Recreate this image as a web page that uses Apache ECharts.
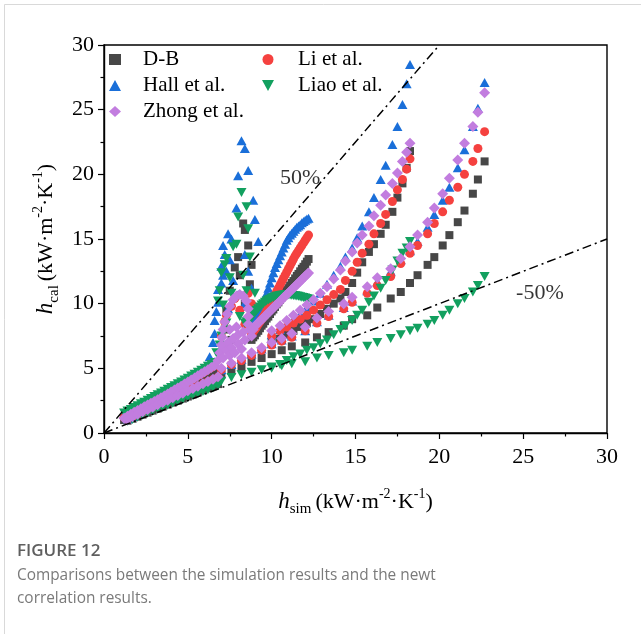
<!DOCTYPE html>
<html>
<head>
<meta charset="utf-8">
<script src="https://cdn.jsdelivr.net/npm/echarts@6/dist/echarts.min.js"></script>
<style>
html,body{margin:0;padding:0;background:#fff;}
#chart{width:641px;height:634px;}
</style>
</head>
<body>
<div id="chart"></div>
<script>
// ---------------- DATA ----------------
// low band, upper line (run A)
const xLowA = [1.2,1.4,1.6,1.8,2.0,2.2,2.4,2.6,2.8,3.0,3.2,3.4,3.6,3.8,4.0,4.2,4.4,4.6,4.8,5.0,5.2,5.4,5.6,5.8,6.0,6.2,6.4,6.6];
const dbLowA   = [1.0,1.12,1.25,1.38,1.5,1.63,1.76,1.9,2.03,2.16,2.3,2.44,2.57,2.7,2.84,2.98,3.12,3.26,3.4,3.54,3.68,3.82,3.96,4.1,4.24,4.38,4.52,4.66];
const hallLowA = [1.45,1.6,1.74,1.88,2.02,2.16,2.3,2.45,2.58,2.73,2.87,3.01,3.15,3.3,3.45,3.6,3.74,3.9,4.05,4.2,4.36,4.52,4.68,4.85,5.02,5.18,5.35,5.5];
const liLowA   = [1.2,1.35,1.5,1.64,1.78,1.92,2.06,2.2,2.34,2.48,2.62,2.76,2.9,3.05,3.2,3.35,3.5,3.65,3.8,3.95,4.1,4.26,4.42,4.58,4.74,4.9,5.06,5.22];
const liaoLowA = [1.55,1.7,1.82,1.98,2.1,2.26,2.38,2.54,2.66,2.82,2.95,3.1,3.22,3.38,3.52,3.66,3.8,3.95,4.1,4.24,4.4,4.55,4.7,4.86,5.0,5.16,5.3,5.45];
const zhongLowA= [1.15,1.3,1.45,1.6,1.74,1.88,2.02,2.16,2.3,2.44,2.58,2.72,2.87,3.02,3.17,3.32,3.47,3.62,3.78,3.94,4.1,4.26,4.42,4.58,4.74,4.9,5.06,5.22];

// low band, lower line (run B)
const xLowB = [1.4,1.7,2.0,2.3,2.6,2.9,3.2,3.5,3.8,4.1,4.4,4.7,5.0,5.3,5.6,5.9,6.2,6.5,6.8];
const dbLowB   = [0.95,1.1,1.26,1.42,1.57,1.73,1.88,2.04,2.2,2.35,2.5,2.66,2.82,2.98,3.14,3.3,3.46,3.62,3.78];
const hallLowB = [1.1,1.3,1.5,1.68,1.86,2.04,2.22,2.4,2.58,2.76,2.94,3.12,3.3,3.48,3.66,3.84,4.02,4.2,4.38];
const liLowB   = [1.05,1.25,1.44,1.62,1.8,1.98,2.16,2.34,2.52,2.7,2.88,3.06,3.24,3.42,3.6,3.78,3.96,4.14,4.32];
const liaoLowB = [0.9,1.05,1.22,1.38,1.52,1.68,1.84,1.98,2.14,2.3,2.44,2.6,2.74,2.9,3.04,3.2,3.35,3.5,3.66];
const zhongLowB= [1.05,1.25,1.45,1.64,1.82,2.0,2.18,2.36,2.54,2.72,2.9,3.08,3.26,3.44,3.62,3.8,3.98,4.16,4.34];

// pseudo-critical spike cluster
const dbSpikeX = [8.3,8.4,8.6,8.8,8.0,8.1,7.5,7.3,7.2,8.7,8.4,7.8,7.6];
const dbSpikeY = [16.2,15.7,14.5,13.0,13.6,12.2,11.0,9.5,8.0,11.5,10.0,12.8,7.2];
const hallSpikeX = [6.3,6.5,6.6,6.6,6.7,6.8,6.8,7.0,7.1,7.0,7.2,7.1,7.4,7.6,7.5,7.3,7.9,8.0,8.2,8.4,8.6,8.9,9.0,9.2,8.6,8.0,8.3,8.7,8.4,8.8,7.7,7.4];
const hallSpikeY = [5.9,7.0,7.7,8.7,9.4,10.1,11.1,11.6,12.2,12.9,13.8,14.5,15.4,15.0,13.4,12.5,17.4,19.9,22.6,22.0,20.3,18.0,16.5,14.8,12.5,10.7,9.8,8.5,13.8,11.2,11.8,9.6];
const liSpikeX = [7.2,7.3,7.6,7.8,8.6,8.8,7.0,8.1,8.4,7.4];
const liSpikeY = [8.6,9.1,9.8,10.4,10.8,10.0,7.5,9.5,8.4,6.5];
const liaoSpikeX = [8.2,8.5,8.0,8.6,7.9,7.7,8.7,7.2,7.0,7.5,7.3,9.0,7.1,8.1,7.3,9.1,6.9,6.8,7.0,6.9,8.3,8.5,7.6,6.7,8.4,8.5,8.6,8.7];
const liaoSpikeY = [18.6,17.5,16.7,15.8,14.6,14.4,13.6,13.0,12.4,12.0,13.5,10.8,9.9,9.0,8.5,9.5,11.0,10.2,7.5,6.8,12.2,11.0,10.8,6.2,8.5,8.6,8.7,8.8];
const zhongSpikeX = [6.8,6.9,7.0,7.05,7.1,7.2,7.35,7.5,7.7,7.9,8.1,8.3,8.5,8.6,8.6,8.6,8.7,8.9,7.4,7.7,8.0,8.3,7.5,7.9,7.3,7.6,8.0,8.4,8.8,7.1,7.5,7.8,8.2];
const zhongSpikeY = [5.6,6.2,6.8,7.4,8.0,8.6,9.2,9.8,10.3,10.6,10.7,10.6,10.2,9.6,9.0,8.4,8.0,8.0,7.0,7.3,7.6,7.8,8.0,8.2,6.4,6.6,6.9,7.2,7.5,5.8,6.0,6.2,6.5];

// run A rising branch (dense)
const xRise = [8.8,8.9,9.0,9.1,9.2,9.3,9.4,9.5,9.6,9.7,9.8,9.9,10.0,10.1,10.2,10.3,10.4,10.5,10.6,10.7,10.8,10.9,11.0,11.1,11.2,11.3,11.4,11.5,11.6,11.7,11.8,11.9,12.0,12.1,12.2];
const dbRise   = [7.2,7.4,7.55,7.75,7.9,8.1,8.3,8.45,8.65,8.85,9.0,9.2,9.4,9.55,9.75,9.95,10.1,10.3,10.5,10.65,10.85,11.05,11.2,11.4,11.6,11.75,11.95,12.15,12.3,12.5,12.7,12.85,13.05,13.25,13.45];
const hallRise = [8.2,8.5,8.8,9.0,9.2,9.4,9.6,10.0,10.4,10.8,11.2,11.6,12.0,12.4,12.8,13.1,13.4,13.7,14.0,14.3,14.6,14.9,15.1,15.3,15.45,15.6,15.75,15.9,16.0,16.1,16.25,16.35,16.45,16.55,16.6];
const liRise   = [7.6,7.8,8.0,8.2,8.4,8.6,8.8,9.0,9.2,9.45,9.7,9.95,10.2,10.45,10.7,10.95,11.2,11.45,11.7,11.95,12.2,12.45,12.7,12.95,13.2,13.45,13.7,13.9,14.1,14.3,14.5,14.7,14.9,15.1,15.3];
const liaoRise = [8.9,9.1,9.3,9.45,9.6,9.75,9.9,10.0,10.1,10.2,10.28,10.35,10.42,10.48,10.53,10.57,10.6,10.63,10.65,10.67,10.68,10.68,10.68,10.67,10.66,10.64,10.62,10.6,10.57,10.54,10.5,10.47,10.43,10.4,10.36];
const zhongRise= [8.0,8.13,8.26,8.39,8.52,8.65,8.78,8.9,9.03,9.16,9.29,9.42,9.55,9.68,9.8,9.93,10.06,10.19,10.32,10.45,10.58,10.7,10.83,10.96,11.09,11.22,11.35,11.48,11.6,11.73,11.86,11.99,12.12,12.25,12.38];

// run B
const xB = [10.0,10.5,10.9,11.3,11.7,12.1,12.5,12.9,13.3,13.7,14.1,14.4,14.8,15.1,15.4,15.8,16.1,16.5,16.8,17.2,17.5,17.8,18.05,18.25];
const dbB    = [7.0,7.3,7.6,7.9,8.2,8.5,8.8,9.2,9.6,10.0,10.4,10.9,11.6,12.4,13.2,14.0,14.6,15.4,16.1,17.1,18.2,19.3,20.5,21.8];
const hallB  = [7.6,8.0,8.4,8.8,9.2,9.7,10.2,10.8,11.5,12.2,12.9,13.6,14.3,15.1,16.0,17.1,18.2,19.6,20.7,22.3,23.7,25.4,27.0,28.5];
const liB    = [7.5,7.9,8.2,8.5,8.8,9.1,9.5,9.9,10.3,10.7,11.1,11.8,12.5,13.2,13.9,14.6,15.4,16.2,16.9,17.9,18.8,19.6,20.4,21.2];
const liaoB  = [5.0,5.3,5.6,5.9,6.1,6.4,6.6,6.9,7.2,7.6,8.0,8.3,8.7,9.1,9.5,10.1,10.6,11.2,11.8,12.6,13.3,13.9,14.3,14.8];
const zhongB = [7.9,8.3,8.7,9.1,9.5,9.9,10.3,10.8,11.3,11.9,12.6,13.3,14.0,14.7,15.3,16.0,16.8,17.6,18.4,19.3,20.1,21.0,21.7,22.4];

// run C
const xC = [7.0,7.6,8.2,8.8,9.4,10.0,10.6,11.2,12.0,12.7,13.4,14.3,14.8,15.7,16.3,17.1,17.7,18.25,18.7,19.3,19.7,20.2,20.6,21.1,21.5,22.0,22.3,22.7];
const dbC    = [4.5,4.8,5.1,5.5,5.8,6.1,6.4,6.7,7.0,7.4,7.8,8.3,8.8,9.1,9.7,10.4,10.9,11.6,12.2,13.0,13.6,14.5,15.3,16.3,17.2,18.5,19.6,21.0];
const hallC  = [4.9,5.3,5.7,6.1,6.5,6.9,7.2,7.5,7.9,8.6,9.1,9.7,10.2,11.0,11.7,12.5,13.4,14.1,14.8,15.9,16.9,18.0,19.0,20.5,21.9,23.7,25.1,27.1];
const liC    = [4.9,5.3,5.6,6.0,6.4,6.8,7.1,7.4,7.9,8.5,9.0,9.6,10.1,10.8,11.4,12.1,13.1,13.9,14.5,15.4,16.2,17.1,18.0,19.0,20.0,21.0,22.0,23.3];
const liaoC  = [4.0,4.3,4.5,4.7,4.9,5.1,5.2,5.35,5.5,5.8,6.0,6.2,6.4,6.7,7.0,7.3,7.6,7.9,8.1,8.4,8.7,9.1,9.5,10.0,10.4,10.9,11.4,12.1];
const zhongC = [5.0,5.4,5.8,6.2,6.6,7.0,7.3,7.7,8.2,8.9,9.4,10.0,10.5,11.3,12.0,12.7,13.5,14.4,15.3,16.3,17.4,18.5,19.7,21.1,22.4,23.7,24.8,26.3];

// reference lines and their labels
const linePlus50  = [[0,0],[20,30]];
const lineMinus50 = [[0,0],[30,15]];
const labelPlus50  = [11.7, 19.7];
const labelMinus50 = [26.0, 10.8];

const xTicks = {min:0, max:30, interval:5};
const yTicks = {min:0, max:30, interval:5};

// ---------------- BUILD ----------------
function zip(xs, ys){ return xs.map((x,i)=>[x, ys[i]]); }
function all(parts){ return parts.reduce((a,p)=>a.concat(zip(p[0],p[1])), []); }

const dbData    = all([[xLowA,dbLowA],[xLowB,dbLowB],[dbSpikeX,dbSpikeY],[xRise,dbRise],[xB,dbB],[xC,dbC]]);
const hallData  = all([[xLowA,hallLowA],[xLowB,hallLowB],[hallSpikeX,hallSpikeY],[xRise,hallRise],[xB,hallB],[xC,hallC]]);
const liData    = all([[xLowA,liLowA],[xLowB,liLowB],[liSpikeX,liSpikeY],[xRise,liRise],[xB,liB],[xC,liC]]);
const liaoData  = all([[xLowA,liaoLowA],[xLowB,liaoLowB],[liaoSpikeX,liaoSpikeY],[xRise,liaoRise],[xB,liaoB],[xC,liaoC]]);
const zhongData = all([[xLowA,zhongLowA],[xLowB,zhongLowB],[zhongSpikeX,zhongSpikeY],[xRise,zhongRise],[xB,zhongB],[xC,zhongC]]);

const SERIF = "'Liberation Serif','Times New Roman',serif";
const SANS = "'Open Sans','Noto Sans',sans-serif";
const C = {db:'#474747', hall:'#1a6fd9', li:'#f5413f', liao:'#12a05f', zhong:'#c27ddf'};

const chart = echarts.init(document.getElementById('chart'), null, {renderer:'canvas'});

const titleRich = {
  i:{fontFamily:SERIF, fontStyle:'italic', fontSize:23, color:'#000', lineHeight:30, verticalAlign:'middle'},
  sub:{fontFamily:SERIF, fontSize:15, color:'#000', lineHeight:30, verticalAlign:'bottom', padding:[0,4,0,0]},
  t:{fontFamily:SERIF, fontSize:22, color:'#000', lineHeight:30, verticalAlign:'middle'},
  sup:{fontFamily:SERIF, fontSize:14, color:'#000', lineHeight:30, verticalAlign:'top'}
};

const axisCommon = {
  type:'value',
  axisLine:{show:true, onZero:false, lineStyle:{color:'#000', width:1.4}},
  axisTick:{show:true, inside:false, length:6, lineStyle:{color:'#000', width:1.2}},
  minorTick:{show:true, splitNumber:2, length:3.5, lineStyle:{color:'#000', width:1.2}},
  splitLine:{show:false},
  axisLabel:{fontFamily:SERIF, fontSize:22, color:'#000'}
};

const legendText = {fontFamily:SERIF, fontSize:21, color:'#000'};

const option = {
  animation:false,
  backgroundColor:'#fff',
  grid:{left:104, right:34, top:45, bottom:201, show:true, borderColor:'#000', borderWidth:1.4, backgroundColor:'transparent'},
  xAxis:Object.assign({}, axisCommon, {
    min:xTicks.min, max:xTicks.max, interval:xTicks.interval,
    axisLabel:Object.assign({}, axisCommon.axisLabel, {margin:13}),
    name:'{i|h}{sub|sim}{t|(kW·m}{sup|-2}{t|·K}{sup|-1}{t|)}',
    nameLocation:'middle', nameGap:54,
    nameTextStyle:{rich:titleRich}
  }),
  yAxis:Object.assign({}, axisCommon, {
    min:yTicks.min, max:yTicks.max, interval:yTicks.interval,
    axisLabel:Object.assign({}, axisCommon.axisLabel, {margin:10}),
    name:'{i|h}{sub|cal}{t|(kW·m}{sup|-2}{t|·K}{sup|-1}{t|)}',
    nameLocation:'middle', nameGap:34, nameRotate:90,
    nameTextStyle:{rich:titleRich}
  }),
  legend:[
    {data:['D-B','Hall et al.','Zhong et al.'], orient:'vertical', left:104, top:44,
     itemWidth:12, itemHeight:11, itemGap:5,
     textStyle:Object.assign({padding:[0,0,0,17]}, legendText)},
    {data:['Li et al.', {name:'Liao et al.', icon:'path://M0,0L10,0L5,9Z'}], orient:'vertical', left:257, top:44,
     itemWidth:12, itemHeight:11, itemGap:5,
     textStyle:Object.assign({padding:[0,0,0,19]}, legendText)}
  ],
  graphic:[
    {type:'rect', shape:{x:4.5, y:4.5, width:700, height:700}, style:{fill:'none', stroke:'#d9d9d9', lineWidth:1}, silent:true, z:-10},
    {type:'text', left:17, top:543, style:{text:'FIGURE 12', fontFamily:SANS, fontSize:17, fontWeight:600, fill:'#5f5f5f'}},
    {type:'text', left:17, top:568, style:{text:'Comparisons between the simulation results and the newt', fontFamily:SANS, fontSize:15.4, fill:'#7a7a7a'}},
    {type:'text', left:17, top:591, style:{text:'correlation results.', fontFamily:SANS, fontSize:15.4, fill:'#7a7a7a'}}
  ],
  series:[
    {name:'D-B', type:'scatter', symbol:'rect', symbolSize:8, data:dbData, itemStyle:{color:C.db, opacity:1}, z:2},
    {name:'Hall et al.', type:'scatter', symbol:'triangle', symbolSize:[10,9], data:hallData, itemStyle:{color:C.hall, opacity:1}, z:3},
    {name:'Li et al.', type:'scatter', symbol:'circle', symbolSize:9, data:liData, itemStyle:{color:C.li, opacity:1}, z:4},
    {name:'Liao et al.', type:'scatter', symbol:'triangle', symbolRotate:180, symbolSize:[10,9], data:liaoData, itemStyle:{color:C.liao, opacity:1}, z:5},
    {name:'Zhong et al.', type:'scatter', symbol:'diamond', symbolSize:[11,11], data:zhongData, itemStyle:{color:C.zhong, opacity:1}, z:6},
    {type:'line', data:linePlus50, symbol:'none', silent:true, lineStyle:{color:'#000', width:1.5, type:[9,4,2,4]}, z:8},
    {type:'line', data:lineMinus50, symbol:'none', silent:true, lineStyle:{color:'#000', width:1.5, type:[9,4,2,4]}, z:8},
    {type:'scatter', data:[labelPlus50], symbolSize:0, silent:true, z:9,
     label:{show:true, position:'inside', formatter:'50%', fontFamily:SERIF, fontSize:22, color:'#000'}},
    {type:'scatter', data:[labelMinus50], symbolSize:0, silent:true, z:9,
     label:{show:true, position:'inside', formatter:'-50%', fontFamily:SERIF, fontSize:22, color:'#000'}}
  ]
};
chart.setOption(option);
</script>
</body>
</html>
